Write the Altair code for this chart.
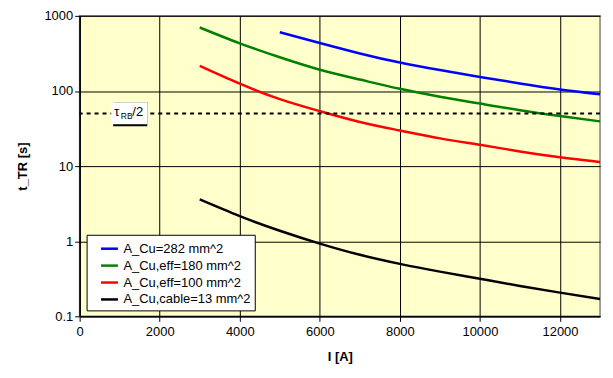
import altair as alt
import pandas as pd

series_names = ["A_Cu=282 mm^2", "A_Cu,eff=180 mm^2", "A_Cu,eff=100 mm^2", "A_Cu,cable=13 mm^2"]
series_colors = ["#0000FF", "#008000", "#FF0000", "#000000"]

current_blue = [5000, 6000, 7000, 8000, 9000, 10000, 11000, 12000, 13000]
t_blue = [605, 435, 316, 239, 190, 154, 126, 105, 90.6]

current_other = [3000, 4000, 5000, 6000, 7000, 8000, 9000, 10000, 11000, 12000, 13000]
t_green = [700, 431, 281, 192, 142, 107, 84, 68, 55.5, 46.5, 39.4]
t_red = [216, 125, 78, 53.9, 38.7, 29.8, 23.4, 19.2, 15.7, 13.1, 11.3]
t_black = [3.6, 2.16, 1.38, 0.93, 0.66, 0.50, 0.394, 0.316, 0.254, 0.207, 0.17]

tau_half = 50
x_ticks = [0, 2000, 4000, 6000, 8000, 10000, 12000]
y_ticks = [0.1, 1, 10, 100, 1000]

rows = []
for name, xs, ys in [
    (series_names[0], current_blue, t_blue),
    (series_names[1], current_other, t_green),
    (series_names[2], current_other, t_red),
    (series_names[3], current_other, t_black),
]:
    for xv, yv in zip(xs, ys):
        rows.append({"series": name, "I": xv, "t": yv})
df = pd.DataFrame(rows)

xscale = alt.Scale(domain=[0, 13000], nice=False, zero=False)
yscale = alt.Scale(type="log", domain=[0.1, 1000], nice=False)

x_axis = alt.Axis(values=x_ticks, format="d", title="I [A]", grid=True)
y_axis = alt.Axis(values=y_ticks, format="~g", title="t_TR [s]", grid=True)

lines = alt.Chart(df).mark_line(strokeWidth=2.5, interpolate="natural").encode(
    x=alt.X("I:Q", scale=xscale, axis=x_axis),
    y=alt.Y("t:Q", scale=yscale, axis=y_axis),
    color=alt.Color(
        "series:N",
        scale=alt.Scale(domain=series_names, range=series_colors),
        sort=series_names,
        legend=alt.Legend(
            title=None, orient="none", legendX=7, legendY=220,
            symbolType="stroke", symbolSize=289, symbolStrokeWidth=2.5,
            labelFontSize=13, labelFont="Liberation Sans", labelColor="black",
            padding=4, strokeColor="black", fillColor="white",
            rowPadding=-1, symbolOffset=9, labelOffset=4, cornerRadius=0,
        ),
    ),
    order=alt.Order("I:Q"),
)

thr_df = pd.DataFrame({"t": [tau_half]})
rule = alt.Chart(thr_df).mark_rule(color="black", strokeWidth=2, strokeDash=[4, 4]).encode(
    y=alt.Y("t:Q", scale=yscale)
)

box_df = pd.DataFrame({"x1": [788], "x2": [1689], "y1": [36.1], "y2": [70.6]})
shadow = alt.Chart(box_df).mark_rect(color="black", xOffset=2, yOffset=2).encode(
    x=alt.X("x1:Q", scale=xscale), x2="x2:Q",
    y=alt.Y("y1:Q", scale=yscale), y2="y2:Q",
)
box = alt.Chart(box_df).mark_rect(color="white").encode(
    x=alt.X("x1:Q", scale=xscale), x2="x2:Q",
    y=alt.Y("y1:Q", scale=yscale), y2="y2:Q",
)

lab_df = pd.DataFrame({"x": [862], "y": [46.4]})
tau_txt = alt.Chart(lab_df).mark_text(text="τ", align="left", baseline="alphabetic",
                                      fontSize=13, font="Liberation Sans", color="black").encode(
    x=alt.X("x:Q", scale=xscale), y=alt.Y("y:Q", scale=yscale))
rb_txt = alt.Chart(lab_df).mark_text(text="RB", align="left", baseline="alphabetic", dx=6.7, dy=3,
                                     fontSize=8.5, font="Liberation Sans", color="black").encode(
    x=alt.X("x:Q", scale=xscale), y=alt.Y("y:Q", scale=yscale))
half_txt = alt.Chart(lab_df).mark_text(text="/2", align="left", baseline="alphabetic", dx=18.3,
                                       fontSize=13, font="Liberation Sans", color="black").encode(
    x=alt.X("x:Q", scale=xscale), y=alt.Y("y:Q", scale=yscale))

chart = alt.layer(lines, rule, shadow, box, tau_txt, rb_txt, half_txt).properties(
    width=523, height=302,
    autosize=alt.AutoSizeParams(type="none"),
    padding={"left": 72, "top": 7, "right": 5, "bottom": 53},
).configure(
    font="Liberation Sans",
).configure_view(
    fill="#FFFFCC", stroke="#808080", strokeWidth=1.5,
).configure_axis(
    gridColor="black", gridOpacity=1, gridWidth=1,
    domainColor="black", domainWidth=1.5, tickColor="black", tickSize=5,
    labelFontSize=13, labelColor="black", labelFont="Liberation Sans",
    titleFontSize=13, titleFontWeight="bold", titleColor="black", titleFont="Liberation Sans",
).configure_axisX(
    labelPadding=4, titlePadding=12, labelFlush=False,
).configure_axisY(
    labelPadding=2, titlePadding=14,
)

chart.save("out.html", embed_options={"renderer": "svg", "actions": False})
